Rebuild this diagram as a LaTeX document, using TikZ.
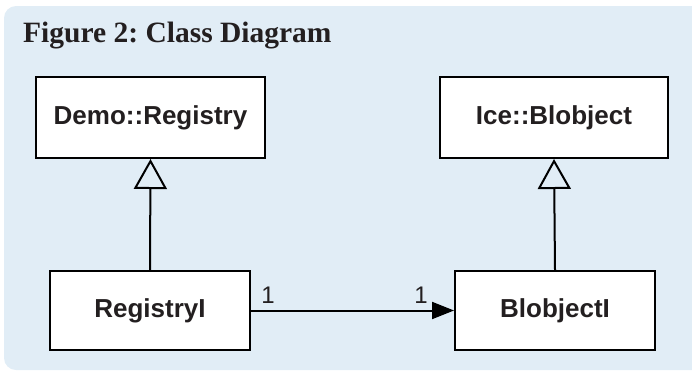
\documentclass[tikz,border=0pt]{standalone}
\usepackage{fontspec}
\setmainfont{Liberation Serif}
\setsansfont{Liberation Sans}
\usetikzlibrary{arrows.meta}
\frenchspacing
\definecolor{panelblue}{RGB}{225,237,246}
\definecolor{ink}{RGB}{35,31,32}
\tikzset{
  classbox/.style={draw=black, fill=white, line width=2pt, rectangle,
    font=\sffamily\bfseries\fontsize{26}{30}\selectfont, text=ink, inner sep=0pt},
  inherit/.style={draw=black, line width=2pt,
    -{Triangle[open, length=30pt, width=33pt, line width=2pt]}},
  assoc/.style={draw=black, line width=2pt,
    -{Triangle[length=22pt, width=17pt]}},
  mult/.style={font=\sffamily\fontsize{24}{28}\selectfont, text=ink, inner sep=0pt}
}
\begin{document}
\begin{tikzpicture}[x=1pt, y=-1pt]
  \useasboundingbox (0,0) rectangle (692,373);
  % panel
  \fill[panelblue, rounded corners=12pt] (4,6) rectangle (704,370);
  % title
  \node[anchor=base west, inner sep=0pt, text=ink,
        font=\rmfamily\bfseries\fontsize{29.5}{34}\selectfont] (title) at (23,42) {Figure 2: Class Diagram};
  % classes
  \node[classbox, minimum width=229pt, minimum height=81pt] (demoreg) at (150.5,117.5) {Demo::Registry};
  \node[classbox, minimum width=228pt, minimum height=81pt] (iceblob) at (554,117.5) {Ice::Blobject};
  \node[classbox, minimum width=200pt, minimum height=79pt] (regimpl) at (150,310.5) {RegistryI};
  \node[classbox, minimum width=200pt, minimum height=79pt] (blobimpl) at (555,310.5) {BlobjectI};
  % generalisations
  \draw[inherit] (regimpl.north) -- (demoreg.south);
  \draw[inherit] (blobimpl.north) -- (iceblob.south);
  % association
  \draw[assoc] (regimpl.east) -- (blobimpl.west);
  \node[mult] (m1) at (268,295) {1};
  \node[mult] (m2) at (421,295) {1};
\end{tikzpicture}
\end{document}
